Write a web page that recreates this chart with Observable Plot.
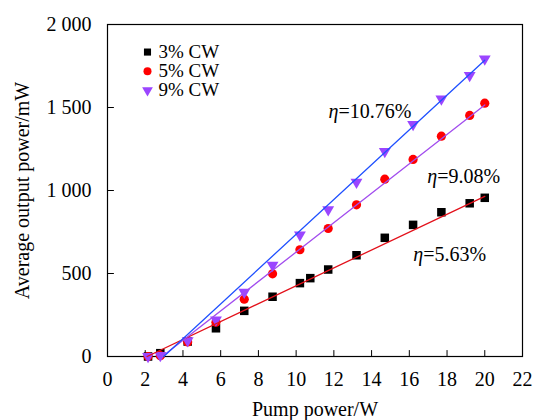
<!DOCTYPE html>
<html>
<head>
<meta charset="utf-8">
<script src="https://cdn.jsdelivr.net/npm/d3@7"></script>
<script src="https://cdn.jsdelivr.net/npm/@observablehq/plot@0.6"></script>
<style>
  html, body { margin: 0; padding: 0; background: #fff; }
  #chart svg { display: block; }
  #chart svg, #chart svg text { font-family: "Liberation Serif", "Times New Roman", Times, "DejaVu Serif", serif !important; }
</style>
</head>
<body>
<div id="chart"></div>
<script>
// ---- data ----
const pump = [2.15, 2.8, 4.25, 5.75, 7.25, 8.75, 10.2, 11.7, 13.2, 14.7, 16.2, 17.7, 19.2, 20];
const cw3 = [0, 20, 90, 170, 275, 360, 442, 524, 610, 715, 793, 869, 923, 956];
const cw3ExtraPump = [10.75];
const cw3ExtraPower = [472];
const cw5 = [0, 5, 88, 207, 345, 498, 643, 771, 914, 1068, 1187, 1327, 1452, 1526];
const cw9 = [0, 6, 96, 221, 387, 550, 733, 885, 1050, 1235, 1398, 1552, 1693, 1793];

const seriesNames = ["3% CW", "5% CW", "9% CW"];
// linear fits: [start pump, start power, end pump, end power]
const fit3 = [2.1, 0, 20, 965];
const fit5 = [2.9, 0, 20, 1515];
const fit9 = [2.98, 0, 20, 1785];
const etaTexts = ["=10.76%", "=9.08%", "=5.63%"];

const xTicks = [0, 2, 4, 6, 8, 10, 12, 14, 16, 18, 20, 22];
const yTicks = [0, 500, 1000, 1500, 2000];

// ---- layout (annotation / legend anchors, in data units) ----
const etaX = [12.24, 17.48, 16.74];
const etaY = [1476, 1084, 614];
const legendMarkX = 2.12;
const legendTextX = 2.7;
const legendY = [1834, 1719, 1604];

// ---- styles ----
const FONT = "'Liberation Serif', 'Times New Roman', serif";
const colMark = ["#000000", "#ff0000", "#9b45ff"];
const colLine = {"3": "#e3101a", "5": "#a24dee", "9": "#1f50ff"};

const rows = (xs, ys, s) => xs.map((x, i) => ({x, y: ys[i], s}));
const d3rows = rows(pump, cw3, 0).concat(rows(cw3ExtraPump, cw3ExtraPower, 0));
const d5rows = rows(pump, cw5, 1);
const d9rows = rows(pump, cw9, 2);
const fitRows = (f, k) => [{x: f[0], y: f[1], k}, {x: f[2], y: f[3], k}];
const fits = fitRows(fit3, "3").concat(fitRows(fit5, "5"), fitRows(fit9, "9"));
const eta = etaTexts.map((t, i) => ({t, x: etaX[i], y: etaY[i]}));
const legend = seriesNames.map((n, i) => ({n, i, y: legendY[i]}));
const symbols = ["square", "circle", "triangle"];
const rotates = [0, 0, 180];

const tickShape = {draw(context, l) { context.moveTo(0, 0); context.lineTo(0, -l); }};
const fmt = d => d3.format(",")(d).replace(/,/g, " ");

const chart = Plot.plot({
  width: 534,
  height: 420,
  marginLeft: 107,
  marginRight: 12,
  marginTop: 24,
  marginBottom: 64,
  style: {fontFamily: FONT, fontSize: "20px", color: "#000", background: "#fff"},
  x: {domain: [0, 22], ticks: xTicks},
  y: {domain: [0, 2000], ticks: yTicks},
  marks: [
    Plot.frame({stroke: "#000", strokeWidth: 1.2}),
    Plot.axisX(xTicks, {tickSize: 0, tickPadding: 15, label: "Pump power/W", labelAnchor: "center", labelArrow: "none", labelOffset: 59, fontSize: 20}),
    Plot.axisY(yTicks, {tickSize: 0, tickPadding: 16, tickFormat: fmt, label: "Average output power/mW", labelAnchor: "center", labelArrow: "none", labelOffset: 93, fontSize: 20}),
    Plot.vector(xTicks, {x: d => d, frameAnchor: "bottom", length: 6, rotate: 0, anchor: "start", shape: tickShape, stroke: "#000", strokeWidth: 1}),
    Plot.vector(yTicks, {y: d => d, frameAnchor: "left", length: 6, rotate: 90, anchor: "start", shape: tickShape, stroke: "#000", strokeWidth: 1}),
    // markers
    Plot.dot(d3rows, {x: "x", y: "y", symbol: "square", r: 4.8, fill: colMark[0], stroke: "none"}),
    Plot.dot(d5rows, {x: "x", y: "y", symbol: "circle", r: 4.6, fill: colMark[1], stroke: "none"}),
    Plot.dot(d9rows, {x: "x", y: "y", symbol: "triangle", rotate: 180, r: 4.4, fill: colMark[2], stroke: "none"}),
    // fit lines
    Plot.line(fits, {x: "x", y: "y", z: "k", stroke: d => colLine[d.k], strokeWidth: 1.3}),
    // annotations
    Plot.text(eta, {x: "x", y: "y", text: () => "η", textAnchor: "end", fontStyle: "italic", fontSize: 20, fill: "#000"}),
    Plot.text(eta, {x: "x", y: "y", text: "t", textAnchor: "start", fontSize: 20, fill: "#000"}),
    // legend
    Plot.dot(legend, {x: () => legendMarkX, y: "y", symbol: d => symbols[d.i], rotate: d => rotates[d.i], r: 4, fill: d => colMark[d.i], stroke: "none"}),
    Plot.text(legend, {x: () => legendTextX, y: "y", text: "n", textAnchor: "start", fontSize: 19, fill: "#000"})
  ]
});
document.getElementById("chart").appendChild(chart);
</script>
</body>
</html>
